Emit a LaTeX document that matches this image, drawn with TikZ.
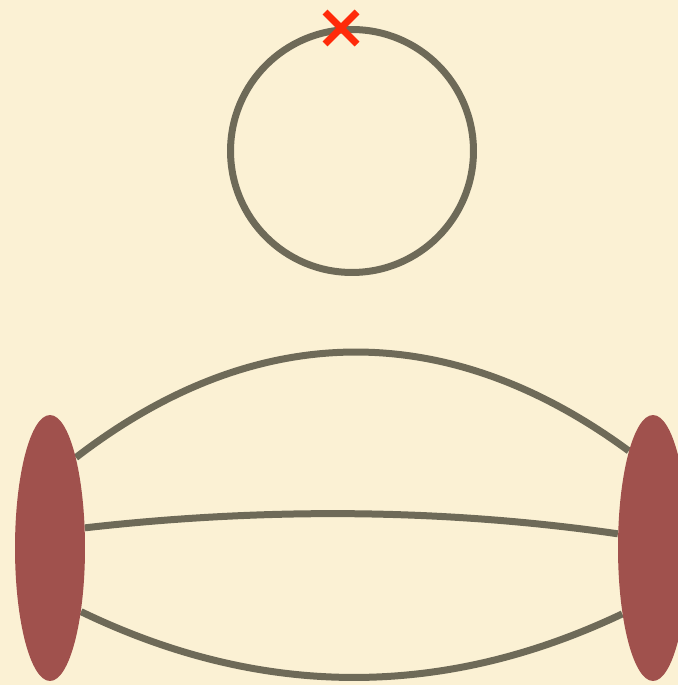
\documentclass[tikz,border=0pt]{standalone}
\usetikzlibrary{shapes.geometric}
\definecolor{paper}{HTML}{FBF1D4}
\definecolor{strand}{HTML}{6E6A58}
\definecolor{blob}{HTML}{A0514D}
\definecolor{cross}{HTML}{FF2A0A}
\pgfdeclarelayer{bg}
\pgfdeclarelayer{lines}
\pgfsetlayers{bg,lines,main}
\tikzset{
  strandline/.style={line width=0.14cm, draw=strand},
  puncture/.style={ellipse, fill=blob, inner sep=0pt, minimum width=1.4cm, minimum height=5.32cm},
  crossline/.style={line width=0.14cm, draw=cross}
}
\begin{document}
\begin{tikzpicture}[x=0.02cm,y=-0.02cm]
\useasboundingbox (0,0) rectangle (678,685);
\clip (0,0) rectangle (678,685);
\begin{pgfonlayer}{bg}
\fill[paper] (0,0) rectangle (678,685);
\end{pgfonlayer}
% vacuum bubble
\node[circle, strandline, inner sep=0pt, minimum size=4.86cm] (loop) at (352,151) {};
\coordinate (mark) at (341,28);
\draw[crossline] (mark) ++(-16,-16) -- ++(32,32);
\draw[crossline] (mark) ++(-16,16) -- ++(32,-32);
% external blobs
\node[puncture] (left) at (50,548) {};
\node[puncture] (right) at (653,548) {};
\begin{pgfonlayer}{lines}
\draw[strandline] (left.74) .. controls (257,318) and (448,318) .. (right.104);
\draw[strandline] (left.30) .. controls (260,508) and (440,508) .. (right.158);
\draw[strandline] (left.-64) .. controls (262,699) and (443,699) .. (right.245);
\end{pgfonlayer}
\end{tikzpicture}
\end{document}
